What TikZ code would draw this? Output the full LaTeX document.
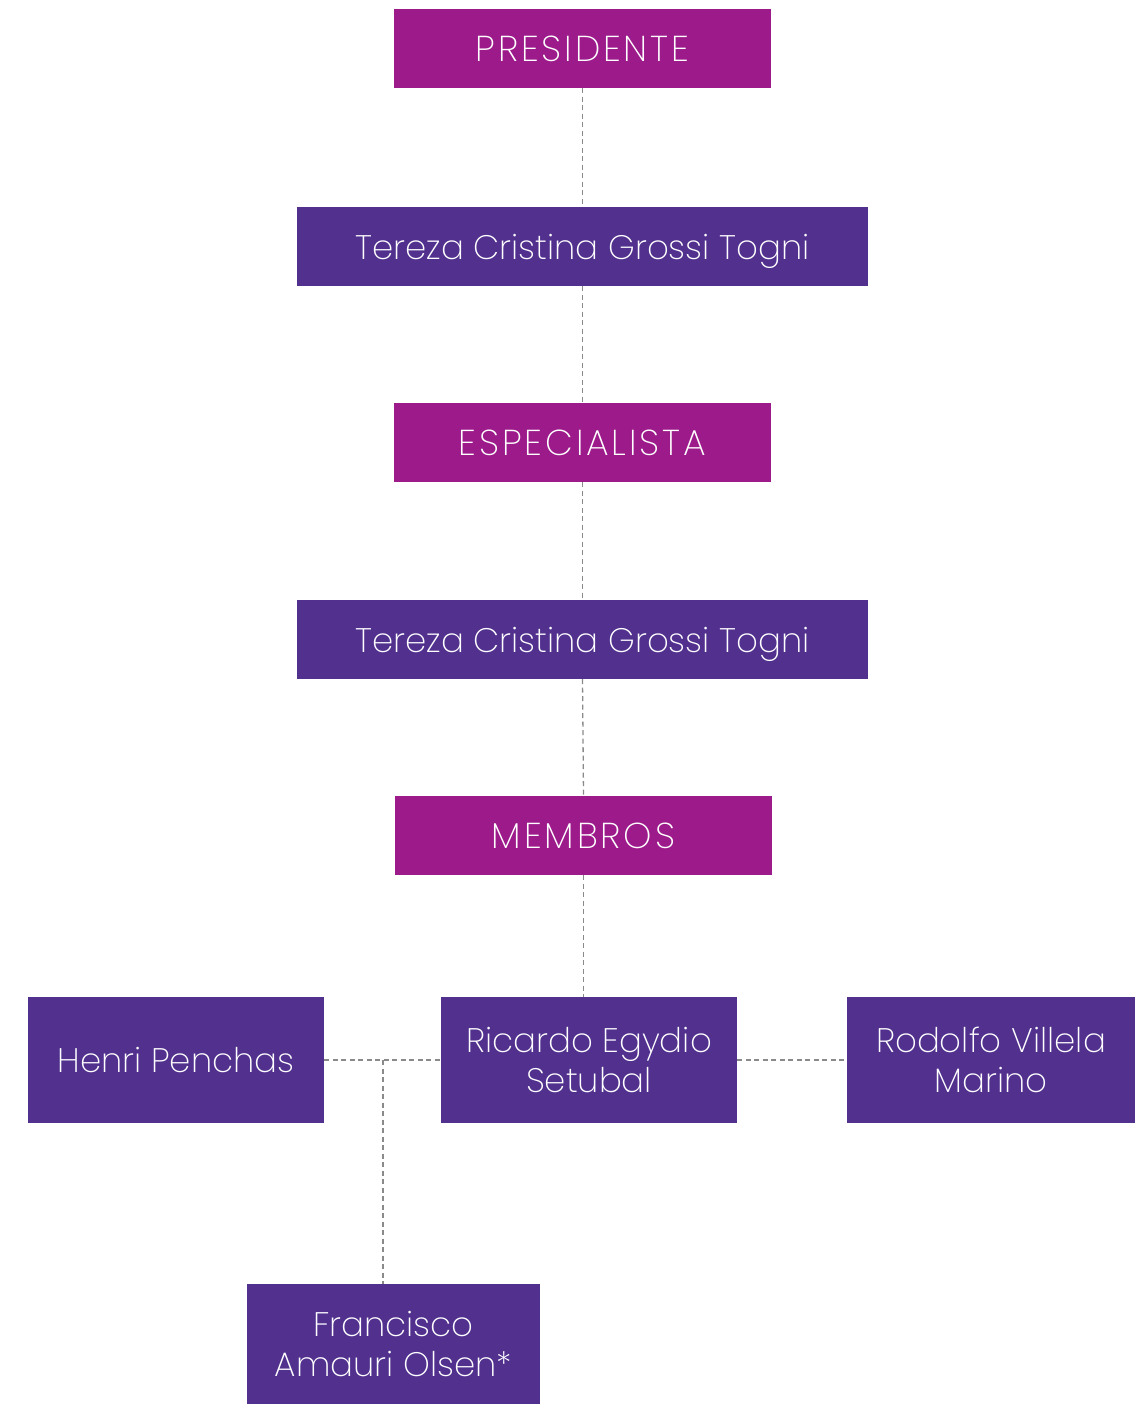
\documentclass[tikz,border=0pt]{standalone}
\usepackage{fontspec}
\setmainfont{Poppins}[UprightFont={* ExtraLight}]
\newfontfamily\capsfont{Poppins}[UprightFont={* ExtraLight}, LetterSpace=8]
\definecolor{magentabox}{HTML}{9C1A8A}
\definecolor{purplebox}{HTML}{52308E}
\definecolor{linkgray}{HTML}{8A8A8A}
\begin{document}
\begin{tikzpicture}[x=1pt,y=-1pt,
  box/.style={rectangle, inner sep=0pt, text=white, align=center, text depth=0pt,
    font=\fontsize{34}{40}\selectfont},
  titlebox/.style={box, fill=magentabox, minimum width=377pt, minimum height=79pt,
    font=\capsfont\fontsize{36}{40}\selectfont},
  namebox/.style={box, fill=purplebox},
  link/.style={draw=linkgray, line width=1.3pt, dash pattern=on 5pt off 3.5pt}]
\useasboundingbox (0,0) rectangle (1135,1404);

% upper chain
\node[titlebox] (pres) at (582.5,48.5) {PRESIDENTE};
\node[namebox, minimum width=571pt, minimum height=79pt] (ter1) at (582.5,246.5) {Tereza Cristina Grossi Togni};
\node[titlebox] (esp) at (582.5,442.5) {ESPECIALISTA};
\node[namebox, minimum width=571pt, minimum height=79pt] (ter2) at (582.5,639.5) {Tereza Cristina Grossi Togni};
\node[titlebox] (memb) at (583.5,835.5) {MEMBROS};

% members row
\node[namebox, minimum width=296pt, minimum height=126pt] (henri) at (176,1060) {Henri Penchas};
\node[namebox, minimum width=296pt, minimum height=126pt] (ric) at (589,1060) {Ricardo Egydio\\Setubal};
\node[namebox, minimum width=288pt, minimum height=126pt] (rod) at (991,1060) {Rodolfo Villela\\Marino};
\node[namebox, minimum width=293pt, minimum height=120pt] (fran) at (393.5,1344) {Francisco\\Amauri Olsen*};

% connectors
\draw[link] (pres.south) -- (ter1.north);
\draw[link] (ter1.south) -- (esp.north);
\draw[link] (esp.south) -- (ter2.north);
\draw[link] (ter2.south) -- (memb.north);
\draw[link] (memb.south) -- (memb.south |- ric.north);
\draw[link] (henri.east) -- (ric.west);
\draw[link] (ric.east) -- (rod.west);
\coordinate (junc) at (383,1060);
\draw[link] (junc) -- (junc |- fran.north);
\end{tikzpicture}
\end{document}
